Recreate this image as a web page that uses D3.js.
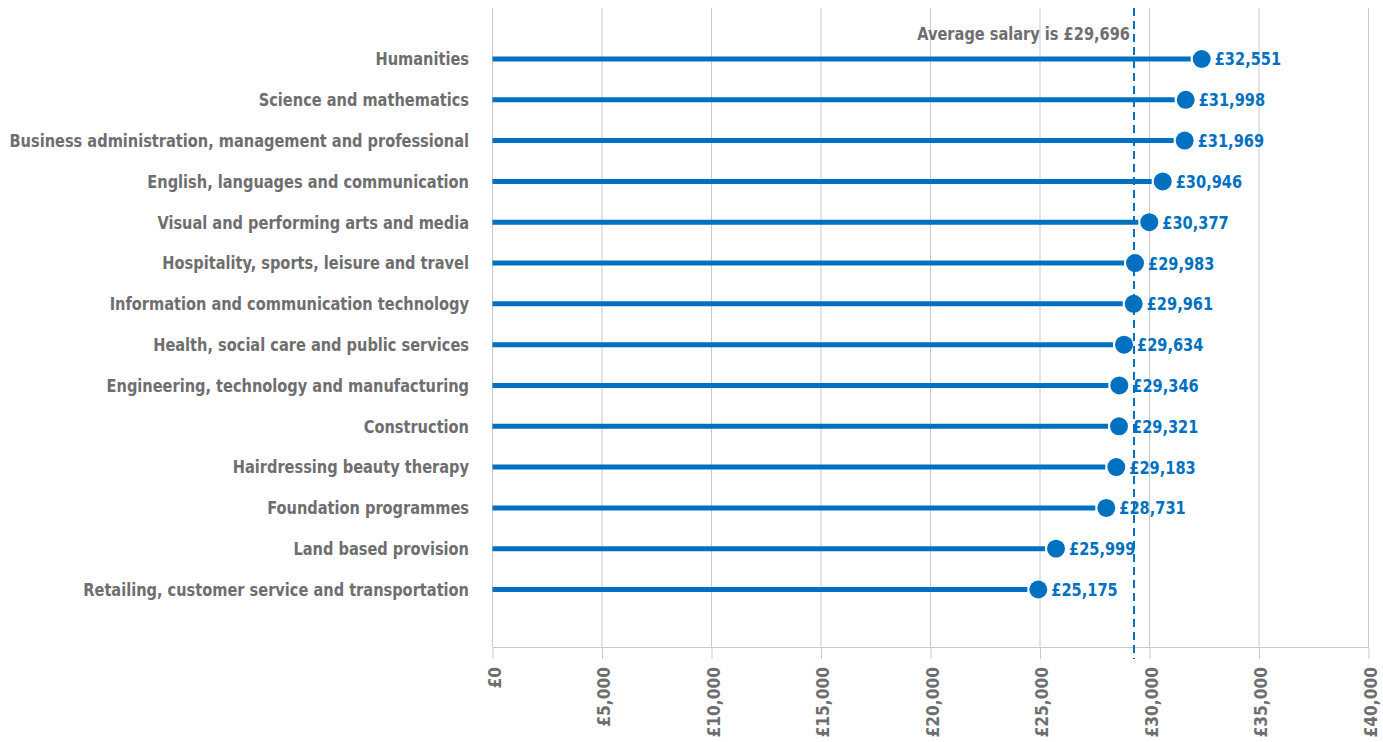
<!DOCTYPE html>
<html>
<head>
<meta charset="utf-8">
<script src="https://cdn.jsdelivr.net/npm/d3@7"></script>
<style>
  html, body { margin: 0; padding: 0; background: #fff; }
  svg text { font-family: 'Liberation Sans Narrow', 'DejaVu Sans Condensed', 'Roboto Condensed', sans-serif; font-weight: bold; font-stretch: condensed; }
</style>
</head>
<body>
<svg id="chart" width="1383" height="742"></svg>
<script>
// ---- data ----
const categories = [
  "Humanities",
  "Science and mathematics",
  "Business administration, management and professional",
  "English, languages and communication",
  "Visual and performing arts and media",
  "Hospitality, sports, leisure and travel",
  "Information and communication technology",
  "Health, social care and public services",
  "Engineering, technology and manufacturing",
  "Construction",
  "Hairdressing beauty therapy",
  "Foundation programmes",
  "Land based provision",
  "Retailing, customer service and transportation"
];
// printed value labels
const salaryLabels = [32551, 31998, 31969, 30946, 30377, 29983, 29961, 29634, 29346, 29321, 29183, 28731, 25999, 25175];
// plotted positions of the markers
const salaryPlotted = [32384, 31653, 31607, 30603, 29991, 29338, 29279, 28836, 28621, 28607, 28484, 28027, 25731, 24922];
const averageLabel = 29696;
const averagePlotted = 29292;
const xTicks = [0, 5000, 10000, 15000, 20000, 25000, 30000, 35000, 40000];

// ---- layout ----
const svg = d3.select("#chart");
const blue = "#0070C0";
const grey = "#6E6E70";
const gridCol = "#C9C9C9";
const plotTop = 8, axisY = 647;

const x = d3.scaleLinear().domain([0, 40000]).range([492.5, 1368.5]);
const y = d3.scalePoint().domain(categories).range([59, 589.5]);
const gbp = d => "£" + d3.format(",")(d);

// horizontally condense text to mimic a condensed gothic face
function condense(sel, k) {
  sel.each(function () {
    const L = this.getComputedTextLength();
    this.setAttribute("textLength", L * k);
    this.setAttribute("lengthAdjust", "spacingAndGlyphs");
  });
}

// gridlines
svg.append("g").selectAll("line").data(xTicks).join("line")
  .attr("x1", d => x(d)).attr("x2", d => x(d))
  .attr("y1", plotTop).attr("y2", axisY)
  .attr("stroke", gridCol).attr("stroke-width", 1);

// x axis
const xAxis = svg.append("g").attr("transform", `translate(0,${axisY})`)
  .call(d3.axisBottom(x).tickValues(xTicks).tickFormat(gbp).tickSizeInner(12).tickSizeOuter(0));
xAxis.select(".domain").attr("stroke", gridCol);
xAxis.selectAll(".tick line").attr("stroke", gridCol);
xAxis.selectAll(".tick text")
  .attr("transform", "rotate(-90)")
  .attr("x", -20).attr("y", 0).attr("dy", "0.42em")
  .style("text-anchor", "end")
  .attr("fill", grey)
  .style("font-size", "18.5px")
  .call(condense, 0.93);

// category labels
svg.append("g").selectAll("text").data(categories).join("text")
  .attr("x", 469).attr("y", d => y(d)).attr("dy", "0.35em")
  .attr("text-anchor", "end")
  .attr("fill", grey)
  .style("font-size", "18px")
  .text(d => d)
  .call(condense, 0.9);

// average line
svg.append("line")
  .attr("x1", x(averagePlotted)).attr("x2", x(averagePlotted))
  .attr("y1", plotTop).attr("y2", 659)
  .attr("stroke", blue).attr("stroke-width", 2).attr("stroke-dasharray", "8,5");
svg.append("text")
  .attr("x", x(averagePlotted) - 4).attr("y", 34).attr("dy", "0.35em")
  .attr("text-anchor", "end").attr("fill", grey)
  .style("font-size", "18px")
  .text("Average salary is " + gbp(averageLabel))
  .call(condense, 0.9);

// lollipops
const rows = categories.map((c, i) => ({ c, v: salaryPlotted[i], lab: salaryLabels[i] }));
svg.append("g").selectAll("line").data(rows).join("line")
  .attr("x1", x(0)).attr("x2", d => x(d.v) - 11)
  .attr("y1", d => y(d.c)).attr("y2", d => y(d.c))
  .attr("stroke", blue).attr("stroke-width", 5);
svg.append("g").selectAll("circle").data(rows).join("circle")
  .attr("cx", d => x(d.v)).attr("cy", d => y(d.c)).attr("r", 9)
  .attr("fill", blue);
svg.append("g").selectAll("text").data(rows).join("text")
  .attr("x", d => x(d.v) + 13).attr("y", d => y(d.c)).attr("dy", "0.36em")
  .attr("fill", blue).style("font-size", "18px")
  .text(d => gbp(d.lab))
  .call(condense, 0.9);
</script>
</body>
</html>
